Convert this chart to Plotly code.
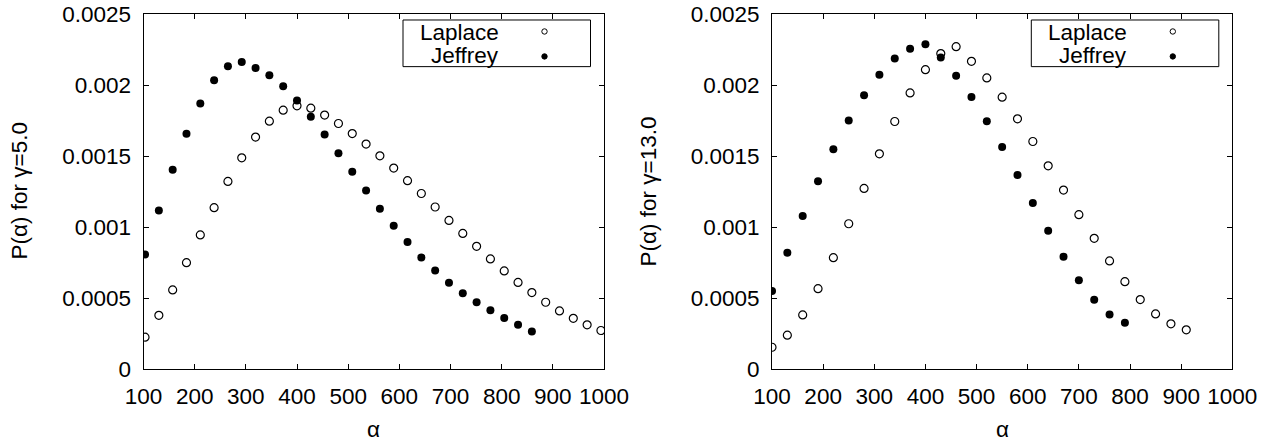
import plotly.graph_objects as go

# ---------------- data ----------------
alpha_left_laplace = [103, 130, 157, 184, 211, 238, 265, 292, 319, 346, 373, 400, 427, 454,
                      481, 508, 535, 562, 589, 616, 643, 670, 697, 724, 751, 778, 805, 832,
                      859, 886, 913, 940, 967, 994]
p_left_laplace = [0.000224, 0.000378, 0.000557, 0.000749, 0.000944, 0.001136, 0.001321,
                  0.001487, 0.001633, 0.001745, 0.001823, 0.001853, 0.001837, 0.001788,
                  0.001729, 0.001658, 0.001584, 0.001501, 0.001415, 0.001326, 0.001236,
                  0.001141, 0.001046, 0.000955, 0.000864, 0.000775, 0.000691, 0.000610,
                  0.000538, 0.000470, 0.000409, 0.000357, 0.000311, 0.000271]

alpha_left_jeffrey = [103, 130, 157, 184, 211, 238, 265, 292, 319, 346, 373, 400, 427, 454,
                      481, 508, 535, 562, 589, 616, 643, 670, 697, 724, 751, 778, 805, 832,
                      859]
p_left_jeffrey = [0.000807, 0.001117, 0.001403, 0.001656, 0.001869, 0.002034, 0.002132,
                  0.002162, 0.002120, 0.002069, 0.001991, 0.001890, 0.001776, 0.001651,
                  0.001520, 0.001389, 0.001257, 0.001129, 0.001009, 0.000894, 0.000786,
                  0.000693, 0.000608, 0.000533, 0.000470, 0.000414, 0.000360, 0.000311,
                  0.000264]

alpha_right_laplace = [100, 130, 160, 190, 220, 250, 280, 310, 340, 370, 400, 430, 460, 490,
                       520, 550, 580, 610, 640, 670, 700, 730, 760, 790, 820, 850, 880, 910]
p_right_laplace = [0.000153, 0.000238, 0.000381, 0.000566, 0.000784, 0.001023, 0.001272,
                   0.001515, 0.001743, 0.001944, 0.002108, 0.002221, 0.002270, 0.002167,
                   0.002050, 0.001914, 0.001762, 0.001602, 0.001431, 0.001260, 0.001087,
                   0.000920, 0.000761, 0.000615, 0.000489, 0.000388, 0.000318, 0.000276]

alpha_right_jeffrey = [100, 130, 160, 190, 220, 250, 280, 310, 340, 370, 400, 430, 460, 490,
                       520, 550, 580, 610, 640, 670, 700, 730, 760, 790]
p_right_jeffrey = [0.000550, 0.000819, 0.001077, 0.001323, 0.001548, 0.001750, 0.001928,
                   0.002073, 0.002186, 0.002256, 0.002287, 0.002193, 0.002066, 0.001916,
                   0.001745, 0.001563, 0.001366, 0.001169, 0.000974, 0.000791, 0.000625,
                   0.000487, 0.000383, 0.000325]

x_ticks = [100, 200, 300, 400, 500, 600, 700, 800, 900, 1000]
y_ticks = [0, 0.0005, 0.001, 0.0015, 0.002, 0.0025]
y_tick_text = ["0", "0.0005", "0.001", "0.0015", "0.002", "0.0025"]
series_names = ["Laplace", "Jeffrey"]
y_titles = ["P(α) for γ=5.0", "P(α) for γ=13.0"]
x_title = "α"

# ---------------- layout geometry (page pixels) ----------------
W, H = 1273, 442
PLOT_TOP, PLOT_BOT = 14, 369.5
T = PLOT_TOP
B = H - PLOT_BOT
FONT = "Liberation Sans, Arial, sans-serif"
FS = 22.5


def px(x):
    return x / W


def py(y):
    return (PLOT_BOT - y) / (PLOT_BOT - PLOT_TOP)


left_dom = [px(143.5), px(604)]
right_dom = [px(772), px(1232.3)]

fig = go.Figure()

open_marker = dict(symbol="circle-open", size=8, color="black", line=dict(width=1.2, color="black"))
filled_marker = dict(symbol="circle", size=8, color="black", line=dict(width=0))

fig.add_trace(go.Scatter(x=alpha_left_laplace, y=p_left_laplace, mode="markers",
                         marker=open_marker, name=series_names[0], xaxis="x", yaxis="y",
                         showlegend=False))
fig.add_trace(go.Scatter(x=alpha_left_jeffrey, y=p_left_jeffrey, mode="markers",
                         marker=filled_marker, name=series_names[1], xaxis="x", yaxis="y",
                         showlegend=False))
fig.add_trace(go.Scatter(x=alpha_right_laplace, y=p_right_laplace, mode="markers",
                         marker=open_marker, name=series_names[0], xaxis="x2", yaxis="y2",
                         showlegend=False))
fig.add_trace(go.Scatter(x=alpha_right_jeffrey, y=p_right_jeffrey, mode="markers",
                         marker=filled_marker, name=series_names[1], xaxis="x2", yaxis="y2",
                         showlegend=False))

axis_common = dict(showline=True, linecolor="black", linewidth=1, mirror="ticks",
                   ticks="inside", ticklen=5, tickwidth=1, tickcolor="black",
                   showgrid=False, zeroline=False, automargin=False,
                   ticklabeloverflow="allow",
                   tickfont=dict(family=FONT, size=FS, color="black"))
x_common = dict(ticklabelstandoff=7, **axis_common)
y_common = dict(ticklabelstandoff=7, **axis_common)

fig.update_layout(
    template="none",
    width=W, height=H,
    margin=dict(l=0, r=0, t=T, b=B, pad=0, autoexpand=False),
    paper_bgcolor="white", plot_bgcolor="white",
    showlegend=False,
    xaxis=dict(domain=left_dom, range=[100, 1000], tickvals=x_ticks, anchor="y", **x_common),
    yaxis=dict(domain=[0, 1], range=[0, 0.0025], tickvals=y_ticks, ticktext=y_tick_text,
               anchor="x", **y_common),
    xaxis2=dict(domain=right_dom, range=[100, 1000], tickvals=x_ticks, anchor="y2", **x_common),
    yaxis2=dict(domain=[0, 1], range=[0, 0.0025], tickvals=y_ticks, ticktext=y_tick_text,
                anchor="x2", **y_common),
)

annotations = []
shapes = []

# axis titles
for dom, ytitle, ytx in [(left_dom, y_titles[0], 19), (right_dom, y_titles[1], 648)]:
    annotations.append(dict(x=px(ytx), y=py(191.7), xref="paper", yref="paper", text=ytitle,
                            textangle=-90, showarrow=False, xanchor="center", yanchor="middle",
                            font=dict(family=FONT, size=FS, color="black")))
    annotations.append(dict(x=(dom[0] + dom[1]) / 2, y=py(430), xref="paper", yref="paper",
                            text=x_title, showarrow=False, xanchor="center", yanchor="middle",
                            font=dict(family=FONT, size=FS, color="black")))

# legends (gnuplot style: right-justified text then sample)
for right_edge in [604, 1232.3]:
    shapes.append(dict(type="rect", xref="paper", yref="paper",
                       x0=px(right_edge - 201), x1=px(right_edge - 13.5),
                       y0=py(66.7), y1=py(20), line=dict(color="black", width=1)))
    for i, (name, ycen, mcy) in enumerate([(series_names[0], 32.5, 31.5),
                                           (series_names[1], 55.5, 56.5)]):
        annotations.append(dict(x=px(right_edge - 103), y=py(ycen), xref="paper", yref="paper",
                                text=name, showarrow=False, xanchor="right", yanchor="middle",
                                font=dict(family=FONT, size=FS, color="black")))
        filled = i == 1
        shapes.append(dict(type="circle", xref="paper", yref="paper",
                           xsizemode="pixel", ysizemode="pixel",
                           xanchor=px(right_edge - 59.5), yanchor=py(mcy),
                           x0=-2.7, x1=2.7, y0=-2.7, y1=2.7,
                           fillcolor="black" if filled else "white",
                           line=dict(color="black", width=1)))

fig.update_layout(annotations=annotations, shapes=shapes)

fig.write_html(
    "out.html",
    config={"displayModeBar": False},
    post_script="document.body.style.margin='0';document.body.style.overflow='hidden';",
)
